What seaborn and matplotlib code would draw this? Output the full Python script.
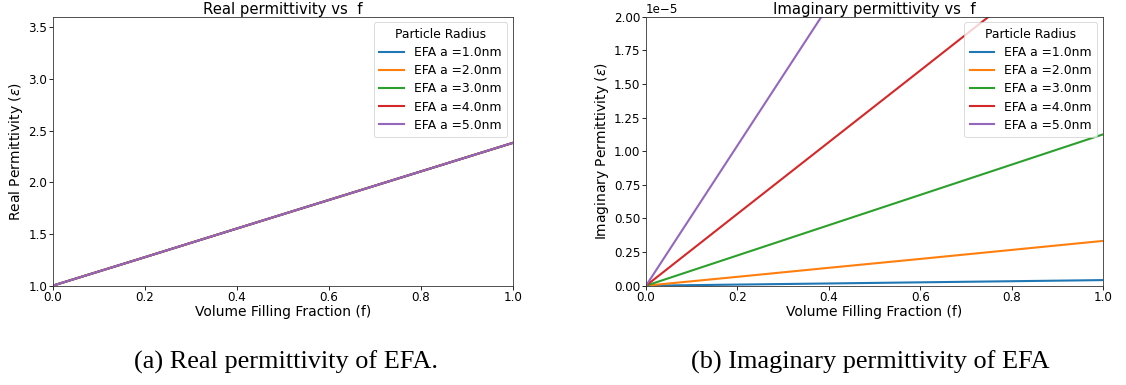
import numpy as np
import pandas as pd
import seaborn as sns
import matplotlib
matplotlib.use("Agg")
import matplotlib.pyplot as plt
from matplotlib.ticker import MultipleLocator

# ---- data ----
fill_fraction = [0.0, 0.2, 0.4, 0.6, 0.8, 1.0]
radius_labels = ["EFA a =1.0nm", "EFA a =2.0nm", "EFA a =3.0nm", "EFA a =4.0nm", "EFA a =5.0nm"]

real_a1 = [1.0, 1.275, 1.552, 1.828, 2.104, 2.38]
real_a2 = [1.0, 1.275, 1.552, 1.828, 2.104, 2.38]
real_a3 = [1.0, 1.275, 1.552, 1.828, 2.104, 2.38]
real_a4 = [1.0, 1.275, 1.552, 1.828, 2.104, 2.38]
real_a5 = [1.0, 1.275, 1.552, 1.828, 2.104, 2.38]

imag_a1 = [0.0, 0.0083e-5, 0.0166e-5, 0.025e-5, 0.0333e-5, 0.0417e-5]
imag_a2 = [0.0, 0.066e-5, 0.133e-5, 0.199e-5, 0.266e-5, 0.333e-5]
imag_a3 = [0.0, 0.225e-5, 0.45e-5, 0.675e-5, 0.90e-5, 1.125e-5]
imag_a4 = [0.0, 0.534e-5, 1.067e-5, 1.60e-5, 2.134e-5, 2.667e-5]
imag_a5 = [0.0, 1.042e-5, 2.084e-5, 3.126e-5, 4.168e-5, 5.21e-5]

real_series = [real_a1, real_a2, real_a3, real_a4, real_a5]
imag_series = [imag_a1, imag_a2, imag_a3, imag_a4, imag_a5]

rows = []
for lab, re_vals, im_vals in zip(radius_labels, real_series, imag_series):
    for f, r, i in zip(fill_fraction, re_vals, im_vals):
        rows.append({"f": f, "radius": lab, "real": r, "imag": i})
df = pd.DataFrame(rows)

palette = dict(zip(radius_labels, ["#1f77b4", "#ff7f0e", "#2ca02c", "#d62728", "#9467bd"]))

plt.rcParams["font.family"] = ["DejaVu Sans"]
plt.rcParams["mathtext.fontset"] = "dejavusans"

fig = plt.figure(figsize=(11.26, 3.85), dpi=100)
W, H = 1126, 385
ax1 = fig.add_axes([52.7 / W, 1 - 285.7 / H, 460 / W, 269 / H])
ax2 = fig.add_axes([646 / W, 1 - 285.7 / H, 457 / W, 269 / H])

tick_fs = 8.6
lab_fs = 10.0
leg_fs = 8.9
title_fs = 10.7
lw = 1.5

for ax, col in [(ax1, "real"), (ax2, "imag")]:
    sns.lineplot(data=df, x="f", y=col, hue="radius", hue_order=radius_labels,
                 palette=palette, ax=ax, linewidth=lw, estimator=None, sort=True)
    ax.set_xlim(0, 1)
    ax.xaxis.set_major_locator(MultipleLocator(0.2))
    ax.set_xlabel("Volume Filling Fraction (f)", fontsize=lab_fs, labelpad=0.5)
    ax.tick_params(labelsize=tick_fs, length=2.8, width=0.6, pad=1.2)
    for s in ax.spines.values():
        s.set_linewidth(0.6)
        s.set_color("#333333")
    leg = ax.legend(title="Particle Radius", loc="upper right", fontsize=leg_fs,
                    title_fontsize=leg_fs, frameon=True, borderaxespad=0.45,
                    handlelength=2.0, labelspacing=0.42, borderpad=0.45)
    leg.get_frame().set_linewidth(0.6)
    for h in leg.get_lines():
        h.set_linewidth(lw)

ax1.set_ylim(1.0, 3.6)
ax1.yaxis.set_major_locator(MultipleLocator(0.5))
ax1.set_ylabel(r"Real Permittivity ($\epsilon$)", fontsize=lab_fs, labelpad=2)
ax1.set_title("Real permittivity vs  f", fontsize=title_fs, pad=2)

ax2.set_ylim(0, 2.0e-5)
ax2.yaxis.set_major_locator(MultipleLocator(0.25e-5))
ax2.set_ylabel(r"Imaginary Permittivity ($\epsilon$)", fontsize=lab_fs, labelpad=2)
ax2.set_title("Imaginary permittivity vs  f", fontsize=title_fs, pad=2)
ax2.yaxis.get_offset_text().set_fontsize(tick_fs)

cap_font = dict(family=["Liberation Serif", "DejaVu Serif"], fontsize=18.9)
fig.text((52.7 + 233) / W, 1 - 369 / H, "(a) Real permittivity of EFA.", ha="center", va="baseline", **cap_font)
fig.text((646 + 224) / W, 1 - 369 / H, "(b) Imaginary permittivity of EFA", ha="center", va="baseline", **cap_font)

fig.savefig("out.png", dpi=100)
